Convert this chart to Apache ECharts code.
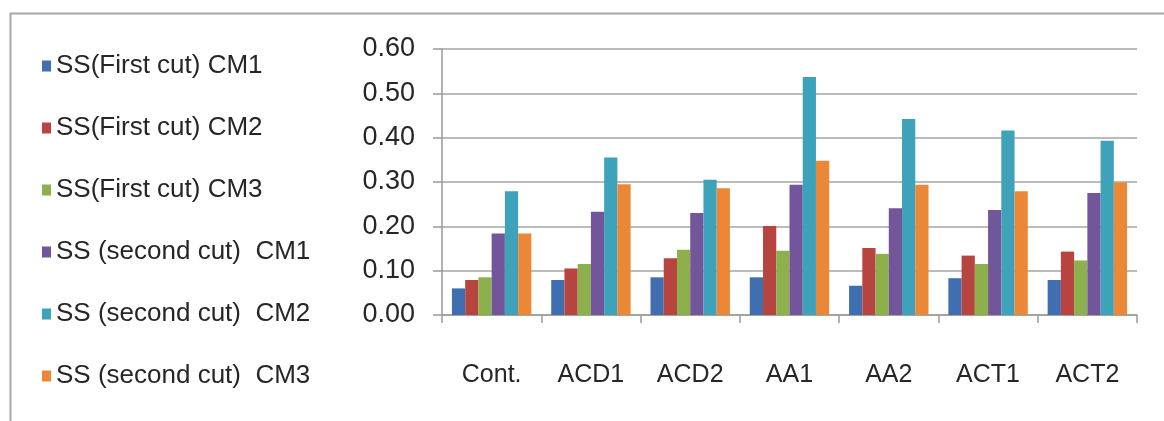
<!DOCTYPE html>
<html><head><meta charset="utf-8">
<script src="https://cdn.jsdelivr.net/npm/echarts@6/dist/echarts.min.js"></script>
<style>html,body{margin:0;padding:0;background:#fff}#c{width:1164px;height:421px}</style>
</head><body><div id="c"></div>
<script>
const categories = ['Cont.', 'ACD1', 'ACD2', 'AA1', 'AA2', 'ACT1', 'ACT2'];
const seriesNames = ['SS(First cut) CM1', 'SS(First cut) CM2', 'SS(First cut) CM3',
  'SS (second cut)  CM1', 'SS (second cut)  CM2', 'SS (second cut)  CM3'];
const ssFirstCM1  = [0.060, 0.079, 0.085, 0.085, 0.066, 0.083, 0.079];
const ssFirstCM2  = [0.079, 0.105, 0.128, 0.201, 0.151, 0.134, 0.143];
const ssFirstCM3  = [0.085, 0.115, 0.147, 0.145, 0.138, 0.115, 0.123];
const ssSecondCM1 = [0.184, 0.233, 0.230, 0.294, 0.241, 0.237, 0.275];
const ssSecondCM2 = [0.279, 0.355, 0.305, 0.537, 0.442, 0.416, 0.393];
const ssSecondCM3 = [0.184, 0.295, 0.286, 0.348, 0.294, 0.279, 0.299];
const yTicks = [0, 0.1, 0.2, 0.3, 0.4, 0.5, 0.6];

const values = [ssFirstCM1, ssFirstCM2, ssFirstCM3, ssSecondCM1, ssSecondCM2, ssSecondCM3];
const colors = ['#3f6fb0', '#b8443f', '#8cb04c', '#72559a', '#3ea2bb', '#eb8838'];
const font = '"Liberation Sans", Arial, sans-serif';

const chart = echarts.init(document.getElementById('c'), null, {renderer: 'canvas'});
chart.setOption({
  animation: false,
  backgroundColor: '#fff',
  color: colors,
  graphic: [{
    type: 'rect', left: 8, top: 11, shape: {width: 1300, height: 600},
    style: {fill: 'none', stroke: '#a8a8a8', lineWidth: 2}, silent: true
  }],
  legend: {
    orient: 'vertical', left: 37, top: 48,
    itemWidth: 9, itemHeight: 11, itemGap: 36,
    icon: 'rect',
    data: seriesNames,
    textStyle: {fontFamily: font, fontSize: 26, lineHeight: 26, color: '#262626'}
  },
  grid: {left: 442, right: 27, top: 49, bottom: 106},
  xAxis: {
    type: 'category', data: categories,
    axisLine: {lineStyle: {color: '#9a9a9a', width: 1.5}},
    axisTick: {show: true, length: 8, lineStyle: {color: '#9a9a9a', width: 1.5}},
    axisLabel: {fontFamily: font, fontSize: 25, color: '#262626', margin: 48}
  },
  yAxis: {
    type: 'value', min: 0, max: 0.6, interval: 0.1,
    axisLine: {show: true, lineStyle: {color: '#9a9a9a', width: 1.5}},
    axisTick: {show: true, length: 9, lineStyle: {color: '#9a9a9a', width: 1.5}},
    splitLine: {lineStyle: {color: '#a6a6a6', width: 1.5}},
    axisLabel: {fontFamily: font, fontSize: 27, color: '#262626', margin: 27,
      formatter: v => v.toFixed(2)}
  },
  series: seriesNames.map((n, i) => ({
    name: n, type: 'bar', data: values[i],
    barGap: '0%', barCategoryGap: '20%',
    itemStyle: {color: colors[i]}
  }))
});
</script></body></html>
